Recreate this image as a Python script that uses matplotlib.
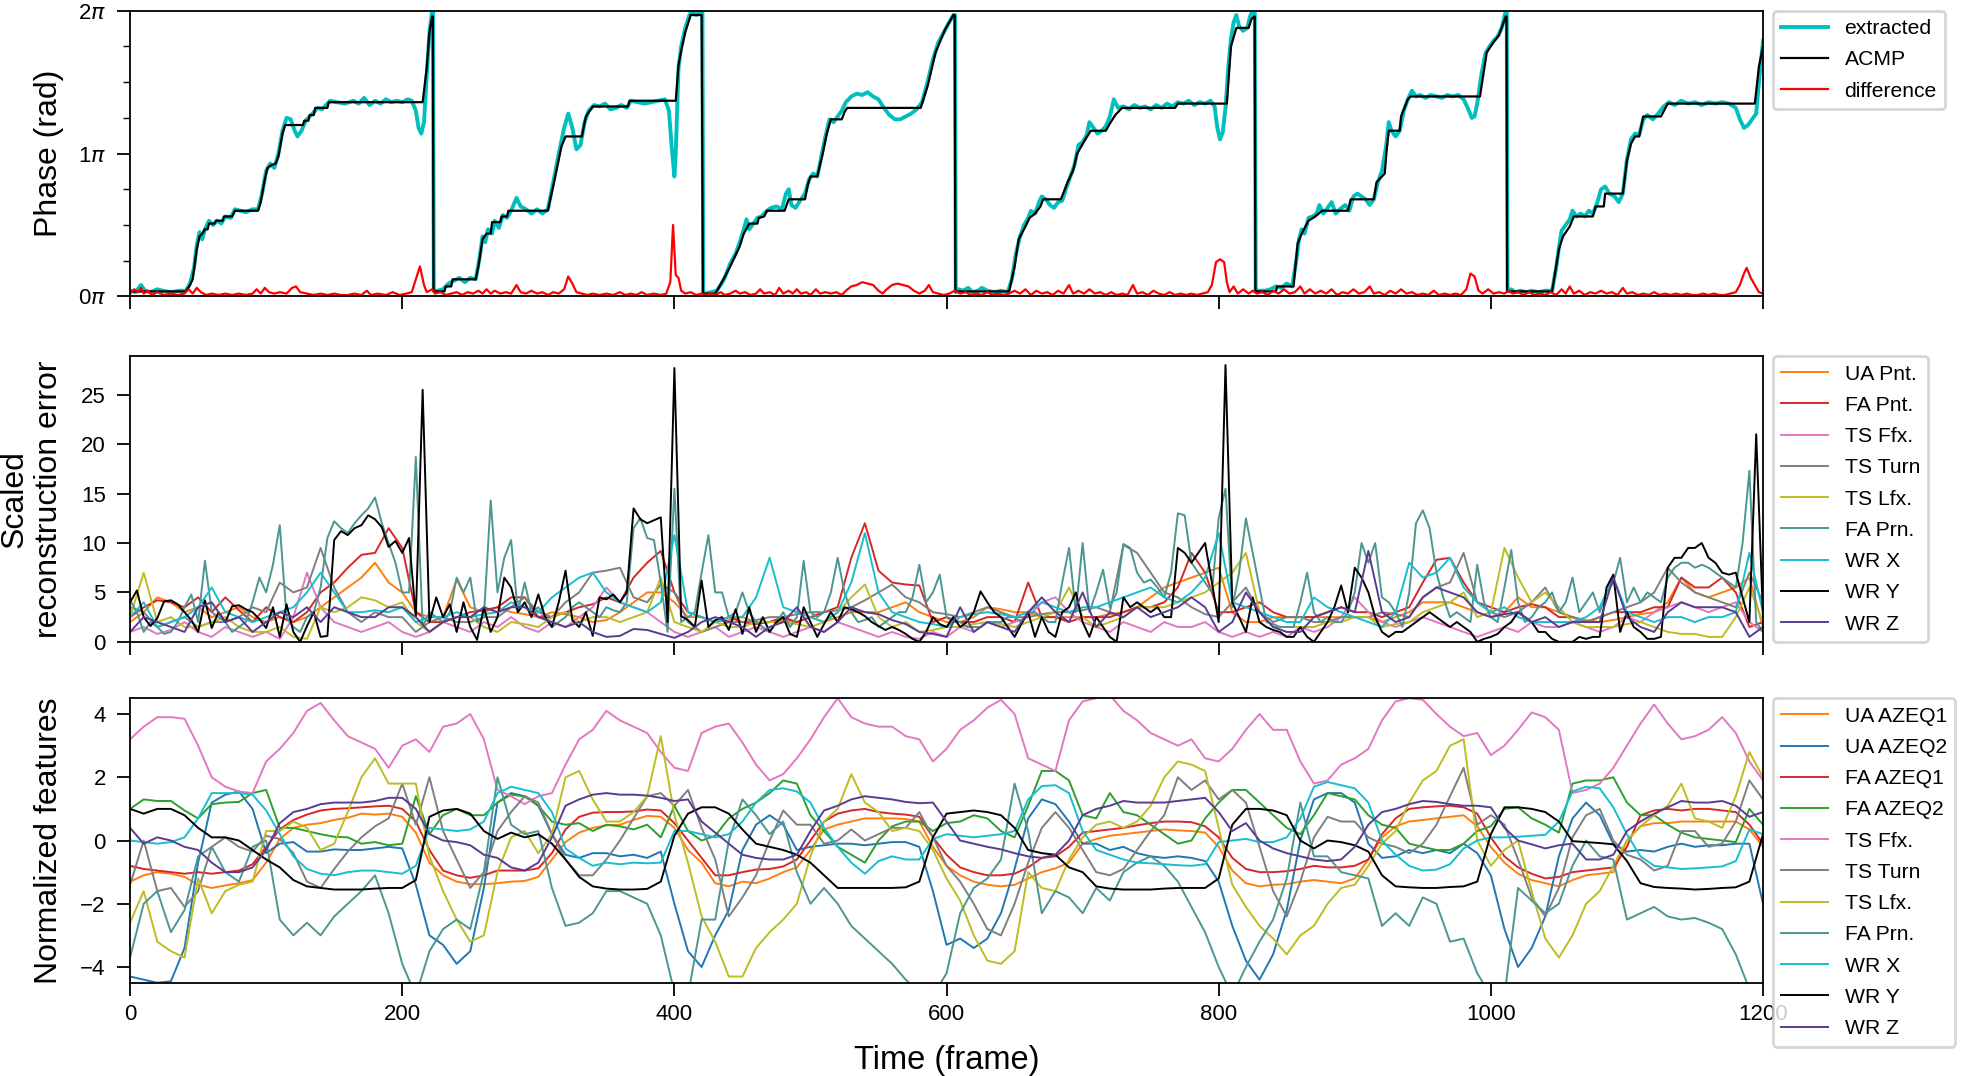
import numpy as np
import matplotlib
matplotlib.use("Agg")
import matplotlib.pyplot as plt
from matplotlib.ticker import MultipleLocator

plt.rcParams['font.family'] = ['Liberation Sans', 'DejaVu Sans']

# ---------------- panel 1 : phase (values in units of pi) ----------------
acmp_pts = [
    (0, 0.035), (41, 0.035), (44, 0.08), (46, 0.12), (49, 0.33), (51, 0.42), (53, 0.44), (55, 0.47),
    (57, 0.47), (58, 0.51), (62, 0.51), (63, 0.53), (68, 0.53), (69, 0.56), (75, 0.56), (77, 0.60),
    (94, 0.60), (96, 0.66), (99, 0.82), (101, 0.90), (104, 0.92), (107, 0.93), (109, 0.98), (112, 1.14),
    (114, 1.20), (127, 1.20), (128, 1.23), (131, 1.23), (132, 1.27), (135, 1.27), (136, 1.32), (145, 1.32),
    (146, 1.36), (215, 1.36), (218, 1.6), (220, 1.85), (222, 1.96), (222.5, 1.96), (223, 0.035),
    (231, 0.035), (232, 0.07), (236, 0.07), (237, 0.12), (254, 0.12), (256, 0.21), (259, 0.40), (262, 0.44),
    (265, 0.44), (266, 0.52), (272, 0.52), (273, 0.56), (277, 0.56), (278, 0.60), (307, 0.60), (312, 0.82),
    (317, 1.05), (320, 1.12), (332, 1.12), (335, 1.26), (340, 1.33), (366, 1.33), (367, 1.37), (401, 1.37),
    (403, 1.62), (405, 1.72), (408, 1.85), (411, 1.94), (412, 1.97), (420, 1.97), (421, 0.02),
    (430, 0.02), (432, 0.05), (436, 0.12), (441, 0.21), (448, 0.35), (451, 0.44), (455, 0.51), (461, 0.51),
    (462, 0.55), (466, 0.56), (468, 0.60), (481, 0.60), (484, 0.68), (496, 0.68), (498, 0.78), (500, 0.84),
    (505, 0.84), (509, 1.0), (512, 1.14), (515, 1.24), (523, 1.24), (525, 1.29), (527, 1.32), (581, 1.32),
    (586, 1.47), (592, 1.71), (599, 1.87), (605, 1.97), (606, 1.97), (606.5, 0.035),
    (646, 0.035), (650, 0.21), (653, 0.40), (658, 0.49), (661, 0.55), (665, 0.58), (669, 0.63), (671, 0.68),
    (684, 0.68), (689, 0.80), (693, 0.88), (696, 1.0), (699, 1.05), (702, 1.10), (706, 1.16), (717, 1.16),
    (720, 1.21), (724, 1.27), (729, 1.32), (768, 1.32), (770, 1.35), (806, 1.35), (809, 1.75), (813, 1.88),
    (822, 1.88), (824, 1.94), (826, 1.96), (826.5, 1.96), (827, 0.035),
    (842, 0.035), (843, 0.07), (855, 0.07), (858, 0.37), (861, 0.44), (866, 0.53), (871, 0.56), (876, 0.60),
    (895, 0.60), (897, 0.68), (914, 0.68), (916, 0.80), (922, 0.86), (923.5, 1.03), (925, 1.16), (933, 1.16),
    (934, 1.26), (939, 1.38), (941, 1.40), (992, 1.40), (997, 1.71), (1002, 1.78), (1006, 1.83), (1011, 1.96),
    (1011.5, 1.96), (1012, 0.035),
    (1045, 0.035), (1050, 0.33), (1053, 0.42), (1058, 0.49), (1061, 0.56), (1075, 0.56), (1077, 0.63),
    (1083, 0.63), (1084, 0.72), (1097, 0.72), (1100, 0.95), (1103, 1.07), (1106, 1.12), (1109, 1.12),
    (1112, 1.26), (1125, 1.26), (1130, 1.35), (1194, 1.35), (1197, 1.61), (1200, 1.75),
]

extracted_pts = [
    (0, 0.04), (4, 0.03), (8, 0.08), (11, 0.04), (15, 0.03), (20, 0.05), (24, 0.04), (30, 0.03), (36, 0.04),
    (41, 0.04), (44, 0.09), (47, 0.2), (49, 0.36), (51, 0.45), (53, 0.40), (55, 0.47), (58, 0.53), (61, 0.50),
    (64, 0.53), (67, 0.51), (70, 0.56), (74, 0.55), (77, 0.61), (81, 0.60), (85, 0.59), (90, 0.61), (94, 0.61),
    (97, 0.72), (100, 0.88), (103, 0.93), (106, 0.90), (109, 1.0), (112, 1.16), (115, 1.25), (118, 1.24),
    (121, 1.16), (123, 1.12), (126, 1.16), (129, 1.23), (132, 1.26), (135, 1.29), (138, 1.32), (141, 1.31),
    (144, 1.34), (147, 1.37), (152, 1.36), (158, 1.35), (164, 1.37), (168, 1.35), (172, 1.39), (176, 1.34),
    (180, 1.37), (184, 1.35), (188, 1.38), (192, 1.36), (196, 1.37), (200, 1.36), (204, 1.38), (207, 1.37),
    (210, 1.30), (212, 1.18), (214, 1.14), (216, 1.22), (218, 1.55), (220, 1.85), (222, 2.0), (222.6, 2.0),
    (223.2, 0.04),
    (226, 0.04), (230, 0.05), (234, 0.09), (238, 0.11), (242, 0.13), (246, 0.10), (250, 0.13), (254, 0.12),
    (257, 0.28), (259, 0.42), (261, 0.38), (263, 0.47), (266, 0.44), (268, 0.53), (271, 0.48), (274, 0.57),
    (277, 0.55), (280, 0.60), (284, 0.69), (287, 0.63), (291, 0.61), (295, 0.58), (299, 0.61), (303, 0.58),
    (307, 0.61), (311, 0.80), (315, 1.0), (319, 1.18), (322, 1.28), (325, 1.18), (328, 1.03), (331, 1.06),
    (334, 1.22), (337, 1.30), (341, 1.34), (345, 1.33), (349, 1.35), (353, 1.31), (357, 1.32), (361, 1.34),
    (365, 1.32), (368, 1.37), (373, 1.36), (378, 1.35), (383, 1.36), (388, 1.37), (393, 1.38), (396, 1.30),
    (398, 1.05), (400, 0.84), (401, 1.0), (403, 1.6), (405, 1.75), (408, 1.88), (411, 1.97), (413, 2.0),
    (416, 1.97), (420, 2.0), (420.6, 2.0), (421.2, 0.02),
    (423, 0.02), (427, 0.03), (431, 0.04), (434, 0.08), (437, 0.13), (441, 0.23), (445, 0.30), (448, 0.38),
    (451, 0.47), (453, 0.54), (455, 0.47), (458, 0.51), (461, 0.55), (464, 0.56), (468, 0.60), (471, 0.62),
    (475, 0.63), (479, 0.61), (482, 0.72), (484, 0.75), (486, 0.64), (489, 0.62), (493, 0.68), (496, 0.72),
    (499, 0.82), (502, 0.86), (505, 0.84), (508, 0.98), (511, 1.12), (514, 1.24), (517, 1.22), (520, 1.26),
    (523, 1.30), (526, 1.36), (530, 1.40), (534, 1.42), (538, 1.41), (542, 1.43), (546, 1.40), (550, 1.38),
    (554, 1.32), (558, 1.27), (562, 1.24), (566, 1.24), (570, 1.26), (574, 1.28), (578, 1.31), (582, 1.36),
    (586, 1.50), (590, 1.66), (594, 1.78), (598, 1.85), (602, 1.92), (605, 1.97), (606.2, 1.97), (606.8, 0.03),
    (609, 0.05), (612, 0.04), (616, 0.06), (619, 0.03), (623, 0.04), (626, 0.06), (630, 0.04), (635, 0.03),
    (640, 0.04), (645, 0.03), (648, 0.12), (651, 0.30), (654, 0.42), (657, 0.50), (660, 0.55), (662, 0.60),
    (665, 0.58), (668, 0.66), (670, 0.70), (673, 0.68), (676, 0.64), (679, 0.62), (682, 0.66), (685, 0.67),
    (688, 0.76), (691, 0.84), (694, 0.92), (697, 1.06), (700, 1.08), (703, 1.13), (705, 1.22), (708, 1.18),
    (711, 1.14), (714, 1.16), (717, 1.19), (720, 1.26), (723, 1.38), (726, 1.32), (730, 1.33), (734, 1.31),
    (738, 1.34), (742, 1.32), (746, 1.33), (750, 1.31), (754, 1.34), (758, 1.32), (762, 1.35), (766, 1.33),
    (770, 1.36), (774, 1.35), (778, 1.37), (782, 1.34), (786, 1.36), (790, 1.35), (794, 1.37), (797, 1.33),
    (799, 1.18), (801, 1.10), (803, 1.15), (805, 1.32), (807, 1.60), (809, 1.80), (811, 1.92), (813, 1.97),
    (815, 1.89), (818, 1.86), (821, 1.88), (823, 1.96), (825, 2.0), (826.5, 2.0), (827.2, 0.04),
    (830, 0.04), (834, 0.04), (838, 0.05), (842, 0.07), (846, 0.06), (850, 0.09), (854, 0.07), (857, 0.25),
    (859, 0.40), (861, 0.47), (863, 0.44), (866, 0.55), (869, 0.56), (872, 0.58), (874, 0.64), (877, 0.58),
    (880, 0.62), (883, 0.66), (886, 0.58), (889, 0.61), (893, 0.64), (896, 0.60), (899, 0.70), (902, 0.72),
    (905, 0.70), (908, 0.68), (911, 0.64), (914, 0.68), (917, 0.80), (920, 0.88), (923, 1.05), (925, 1.22),
    (927, 1.16), (930, 1.12), (933, 1.16), (936, 1.30), (939, 1.38), (942, 1.44), (945, 1.40), (948, 1.41),
    (952, 1.39), (956, 1.41), (960, 1.40), (964, 1.39), (968, 1.41), (972, 1.40), (976, 1.41), (980, 1.38),
    (983, 1.32), (986, 1.25), (988, 1.26), (990, 1.35), (993, 1.55), (996, 1.70), (999, 1.75), (1002, 1.79),
    (1005, 1.82), (1008, 1.88), (1010, 1.96), (1011, 2.0), (1011.7, 2.0), (1012.3, 0.04),
    (1015, 0.05), (1018, 0.03), (1022, 0.04), (1026, 0.03), (1030, 0.04), (1035, 0.03), (1040, 0.04),
    (1045, 0.04), (1048, 0.20), (1050, 0.34), (1052, 0.46), (1055, 0.50), (1058, 0.54), (1060, 0.60),
    (1063, 0.56), (1066, 0.58), (1069, 0.56), (1072, 0.60), (1075, 0.58), (1078, 0.65), (1081, 0.75),
    (1084, 0.77), (1087, 0.72), (1091, 0.70), (1094, 0.66), (1097, 0.72), (1100, 0.96), (1103, 1.10),
    (1106, 1.14), (1109, 1.13), (1112, 1.24), (1115, 1.27), (1119, 1.24), (1123, 1.28), (1127, 1.33),
    (1131, 1.36), (1135, 1.34), (1140, 1.37), (1145, 1.35), (1150, 1.36), (1155, 1.34), (1160, 1.36),
    (1165, 1.35), (1170, 1.36), (1175, 1.35), (1180, 1.32), (1183, 1.24), (1186, 1.18), (1189, 1.20),
    (1192, 1.24), (1195, 1.28), (1197, 1.50), (1200, 1.79),
]

difference_pts = [
    (0, 0.02), (3, 0.05), (6, 0.03), (8, 0.06), (10, 0.02), (13, 0.04), (16, 0.01), (20, 0.03), (25, 0.01),
    (30, 0.02), (35, 0.01), (40, 0.02), (43, 0.05), (46, 0.02), (49, 0.06), (52, 0.03), (56, 0.01), (60, 0.02),
    (65, 0.01), (70, 0.02), (75, 0.01), (80, 0.02), (85, 0.01), (90, 0.02), (93, 0.05), (96, 0.02), (99, 0.06),
    (102, 0.03), (106, 0.02), (110, 0.03), (115, 0.02), (119, 0.06), (122, 0.07), (125, 0.03), (130, 0.02),
    (135, 0.01), (140, 0.02), (145, 0.01), (150, 0.02), (155, 0.01), (160, 0.01), (165, 0.02), (170, 0.01),
    (174, 0.04), (177, 0.01), (182, 0.02), (188, 0.01), (193, 0.03), (198, 0.01), (203, 0.02), (207, 0.03),
    (210, 0.12), (213, 0.21), (216, 0.08), (218, 0.03), (222, 0.05), (224, 0.02), (228, 0.03), (232, 0.01),
    (236, 0.02), (240, 0.03), (244, 0.01), (248, 0.03), (252, 0.02), (256, 0.04), (259, 0.02), (262, 0.05),
    (265, 0.02), (268, 0.04), (272, 0.02), (276, 0.03), (280, 0.02), (284, 0.08), (287, 0.03), (291, 0.02),
    (295, 0.04), (299, 0.02), (303, 0.03), (307, 0.01), (311, 0.03), (315, 0.02), (319, 0.05), (322, 0.14),
    (325, 0.09), (328, 0.03), (332, 0.02), (336, 0.01), (340, 0.02), (345, 0.01), (350, 0.02), (355, 0.01),
    (360, 0.03), (364, 0.01), (368, 0.02), (372, 0.01), (376, 0.03), (380, 0.01), (385, 0.02), (390, 0.01),
    (394, 0.02), (397, 0.10), (399, 0.50), (401, 0.15), (403, 0.13), (405, 0.04), (408, 0.02), (412, 0.03),
    (416, 0.01), (420, 0.02), (423, 0.01), (427, 0.02), (430, 0.01), (434, 0.03), (437, 0.01), (441, 0.02),
    (445, 0.04), (448, 0.02), (452, 0.03), (456, 0.01), (460, 0.02), (463, 0.05), (466, 0.02), (470, 0.03),
    (474, 0.01), (477, 0.06), (480, 0.02), (484, 0.04), (487, 0.02), (490, 0.05), (493, 0.02), (497, 0.03),
    (500, 0.01), (504, 0.05), (507, 0.02), (511, 0.03), (515, 0.02), (519, 0.03), (523, 0.01), (526, 0.04),
    (530, 0.07), (534, 0.08), (538, 0.10), (542, 0.09), (546, 0.08), (550, 0.04), (553, 0.02), (556, 0.05),
    (560, 0.08), (564, 0.09), (568, 0.08), (572, 0.07), (576, 0.04), (580, 0.02), (584, 0.04), (587, 0.08),
    (590, 0.03), (594, 0.02), (598, 0.01), (602, 0.02), (606, 0.04), (610, 0.02), (614, 0.03), (618, 0.01),
    (622, 0.02), (626, 0.01), (630, 0.03), (634, 0.01), (638, 0.02), (642, 0.01), (646, 0.02), (650, 0.04),
    (654, 0.02), (658, 0.05), (662, 0.01), (666, 0.04), (670, 0.02), (674, 0.03), (678, 0.01), (682, 0.04),
    (686, 0.02), (690, 0.08), (693, 0.02), (697, 0.04), (701, 0.02), (705, 0.05), (709, 0.02), (713, 0.03),
    (717, 0.01), (721, 0.03), (725, 0.01), (729, 0.02), (733, 0.01), (737, 0.08), (740, 0.02), (744, 0.03),
    (748, 0.01), (752, 0.04), (756, 0.02), (760, 0.01), (764, 0.03), (768, 0.01), (772, 0.02), (776, 0.01),
    (780, 0.02), (784, 0.01), (788, 0.02), (792, 0.03), (795, 0.08), (798, 0.24), (801, 0.26), (804, 0.24),
    (806, 0.10), (808, 0.03), (811, 0.07), (814, 0.02), (818, 0.05), (822, 0.02), (825, 0.04), (828, 0.02),
    (832, 0.03), (836, 0.01), (840, 0.04), (844, 0.02), (848, 0.05), (852, 0.02), (856, 0.03), (860, 0.07),
    (863, 0.02), (867, 0.05), (871, 0.02), (875, 0.04), (879, 0.02), (883, 0.05), (887, 0.01), (891, 0.03),
    (895, 0.02), (899, 0.05), (903, 0.02), (907, 0.03), (911, 0.07), (914, 0.02), (918, 0.03), (922, 0.01),
    (926, 0.04), (930, 0.02), (934, 0.05), (938, 0.02), (942, 0.03), (946, 0.01), (950, 0.02), (954, 0.01),
    (958, 0.04), (962, 0.01), (966, 0.02), (970, 0.01), (974, 0.02), (978, 0.01), (982, 0.05), (985, 0.16),
    (988, 0.14), (991, 0.04), (994, 0.02), (998, 0.05), (1002, 0.02), (1006, 0.03), (1010, 0.02), (1013, 0.04),
    (1016, 0.02), (1020, 0.03), (1024, 0.01), (1028, 0.03), (1032, 0.01), (1036, 0.02), (1040, 0.01),
    (1044, 0.03), (1048, 0.01), (1052, 0.05), (1055, 0.02), (1058, 0.07), (1061, 0.02), (1065, 0.04),
    (1069, 0.01), (1073, 0.03), (1077, 0.02), (1081, 0.04), (1085, 0.02), (1089, 0.03), (1093, 0.01),
    (1097, 0.06), (1100, 0.02), (1104, 0.03), (1108, 0.01), (1112, 0.02), (1116, 0.01), (1120, 0.03),
    (1124, 0.01), (1128, 0.02), (1132, 0.01), (1136, 0.02), (1140, 0.01), (1144, 0.02), (1148, 0.01),
    (1152, 0.01), (1156, 0.02), (1160, 0.01), (1164, 0.02), (1168, 0.01), (1172, 0.01), (1176, 0.02),
    (1180, 0.03), (1183, 0.08), (1186, 0.16), (1188, 0.20), (1191, 0.13), (1194, 0.08), (1197, 0.03),
    (1200, 0.02),
]

# ---------------- panel 2 : scaled reconstruction error ----------------
frames5 = np.arange(0, 1201, 5)
frames10 = np.arange(0, 1201, 10)

err_wr_y = [  # every 5 frames
    4.0, 5.2, 2.5, 1.6, 2.4, 4.1, 4.2, 3.8, 3.0, 2.2, 1.0, 4.2, 1.4, 3.0, 2.0, 3.6, 3.7, 3.3, 3.0, 2.3,
    1.4, 3.5, 0.5, 3.8, 1.0, 0.0, 1.6, 3.0, 0.5, 0.6, 10.3, 11.2, 10.8, 11.5, 11.8, 12.8, 12.4, 11.6, 9.6, 10.2,
    9.0, 10.5, 2.5, 25.5, 2.0, 4.5, 2.5, 3.8, 1.0, 4.0, 1.5, 0.2, 3.5, 1.0, 2.5, 6.5, 5.5, 3.0, 4.0, 2.5,
    4.8, 2.5, 1.5, 4.0, 7.2, 2.2, 1.5, 3.0, 0.6, 4.5, 4.3, 4.8, 4.0, 5.0, 13.5, 12.4, 12.0, 12.3, 12.6, 2.0,
    27.7, 2.6, 2.2, 1.5, 6.2, 1.5, 2.2, 2.5, 1.2, 3.3, 0.8, 3.5, 1.0, 2.5, 1.0, 2.0, 2.5, 0.8, 0.5, 3.5,
    2.0, 0.5, 1.8, 3.0, 2.0, 3.5, 3.3, 3.0, 2.6, 2.0, 1.6, 1.2, 1.5, 1.2, 0.8, 0.3, 0.0, 1.0, 2.5, 1.8,
    1.5, 2.5, 1.5, 2.0, 3.0, 5.1, 4.0, 3.0, 2.5, 1.5, 0.5, 1.8, 3.0, 0.5, 2.5, 1.0, 0.5, 3.0, 3.5, 5.0,
    2.0, 0.5, 2.5, 1.5, 0.5, 0.0, 4.5, 3.5, 4.0, 3.5, 3.0, 3.5, 2.5, 2.5, 9.5, 9.0, 8.0, 9.0, 10.0, 6.0,
    2.0, 28.0, 4.0, 2.5, 1.0, 4.5, 2.0, 1.5, 1.2, 1.0, 0.5, 0.5, 1.5, 0.5, 0.0, 1.0, 2.0, 3.5, 5.7, 3.0,
    7.5, 6.5, 5.0, 2.5, 1.0, 0.5, 1.0, 1.0, 1.5, 2.0, 2.5, 3.0, 2.5, 2.0, 1.5, 2.0, 1.5, 1.0, 0.0, 0.3,
    0.5, 0.8, 1.5, 2.0, 3.0, 2.5, 2.0, 1.0, 1.0, 0.3, 0.0, 0.0, 0.0, 0.5, 0.3, 0.5, 0.5, 5.5, 6.8, 1.0,
    3.0, 1.5, 1.0, 0.3, 0.3, 0.5, 7.5, 8.5, 8.5, 9.5, 9.5, 10.0, 8.5, 8.0, 7.0, 6.8, 7.0, 4.5, 2.0, 21.0,
    2.5,
]
err_fa_prn = [  # every 5 frames
    4.2, 3.0, 1.0, 2.0, 1.5, 0.8, 1.0, 2.0, 3.5, 4.8, 2.0, 8.2, 3.0, 2.5, 2.0, 1.0, 1.5, 2.0, 4.0, 6.5,
    5.0, 7.8, 11.8, 2.5, 1.5, 1.0, 2.5, 3.0, 5.5, 10.5, 12.2, 11.5, 11.0, 12.0, 12.8, 13.5, 14.6, 12.0, 10.0, 8.0,
    5.0, 5.0, 18.7, 1.5, 3.0, 2.5, 2.0, 3.0, 6.5, 5.0, 6.5, 2.0, 2.5, 14.3, 5.0, 8.5, 10.3, 3.0, 6.0, 3.0,
    3.5, 2.5, 1.5, 2.0, 2.5, 3.5, 4.0, 3.5, 3.0, 2.5, 3.5, 3.2, 3.0, 4.0, 11.5, 12.5, 10.5, 10.3, 6.0, 1.0,
    15.5, 2.0, 2.5, 3.0, 7.0, 10.8, 5.0, 5.0, 2.5, 3.0, 5.0, 3.0, 2.0, 1.5, 1.0, 2.0, 3.0, 1.5, 2.5, 8.2,
    3.0, 2.5, 3.0, 5.0, 8.5, 5.0, 3.0, 2.0, 2.2, 2.5, 1.5, 2.0, 2.5, 3.0, 3.0, 4.5, 7.8, 4.0, 5.0, 6.8,
    2.5, 2.0, 2.0, 1.5, 1.5, 1.5, 2.0, 2.0, 2.0, 2.5, 2.5, 2.0, 3.0, 3.0, 2.5, 2.0, 2.0, 6.0, 9.5, 3.0,
    10.0, 3.0, 5.0, 7.3, 3.5, 5.0, 9.9, 9.5, 7.0, 6.0, 6.3, 5.5, 4.5, 7.0, 13.0, 12.8, 8.0, 7.0, 6.0, 5.0,
    12.5, 15.5, 3.5, 7.0, 12.5, 9.0, 5.5, 2.0, 1.8, 1.5, 1.5, 1.5, 4.0, 7.0, 3.0, 2.0, 2.5, 2.0, 2.0, 3.0,
    5.0, 10.0, 8.0, 10.0, 4.5, 4.0, 3.0, 1.5, 5.0, 12.0, 13.3, 11.5, 7.0, 4.5, 2.5, 3.0, 2.5, 2.0, 7.8, 4.0,
    2.5, 2.0, 5.5, 9.3, 4.0, 2.0, 2.5, 3.5, 4.0, 5.0, 3.0, 4.0, 6.5, 3.0, 4.0, 5.0, 3.0, 5.0, 6.0, 8.5,
    4.0, 5.5, 4.0, 5.0, 4.5, 4.0, 6.5, 7.5, 8.0, 8.0, 7.5, 7.8, 7.5, 7.0, 6.5, 6.0, 5.5, 10.0, 17.3, 2.0,
    1.0,
]
err_ua_pnt = [
    2.0, 3.0, 4.5, 4.0, 3.0, 3.5, 2.5, 3.0, 3.5, 2.5,
    2.0, 2.5, 2.0, 2.5, 3.5, 4.5, 5.5, 6.5, 8.0, 6.0,
    5.0, 3.0, 2.5, 2.5, 6.3, 3.5, 3.0, 3.5, 3.0, 2.8,
    2.5, 3.0, 2.8, 2.5, 2.0, 2.2, 3.0, 4.0, 5.0, 5.0,
    4.0, 2.5, 2.5, 2.0, 2.2, 2.5, 2.0, 2.0, 2.2, 2.0,
    2.5, 2.0, 2.5, 3.0, 3.0, 3.0, 3.5, 4.0, 3.0, 2.5,
    2.0, 2.0, 2.5, 3.5, 3.3, 3.0, 3.0, 2.5, 2.5, 2.5,
    2.5, 2.5, 2.8, 3.0, 3.5, 4.5, 5.5, 6.0, 6.5, 7.0,
    7.5, 3.0, 2.0, 2.0, 2.5, 2.5, 2.5, 2.5, 2.5, 2.5,
    2.5, 2.5, 2.0, 2.5, 3.0, 4.0, 4.0, 4.0, 3.5, 3.0,
    2.5, 3.0, 4.5, 3.5, 3.5, 3.0, 2.5, 2.2, 2.0, 2.2,
    2.5, 2.8, 3.0, 4.0, 6.5, 5.0, 4.5, 5.0, 5.5, 6.5,
    1.5,
]
err_fa_pnt = [
    2.5, 3.5, 4.2, 4.0, 3.5, 4.5, 3.0, 4.5, 3.2, 2.0,
    3.5, 2.5, 2.0, 3.0, 5.0, 6.0, 7.5, 8.8, 9.0, 11.5,
    9.5, 3.0, 2.0, 2.0, 2.5, 3.0, 3.2, 3.5, 4.5, 4.5,
    2.5, 2.5, 3.0, 3.5, 3.8, 4.5, 4.0, 6.5, 8.0, 9.2,
    5.0, 3.0, 2.5, 2.0, 2.5, 2.0, 1.8, 2.0, 2.5, 2.0,
    2.5, 3.0, 3.5, 8.5, 12.0, 7.2, 6.0, 5.8, 5.7, 2.0,
    2.5, 2.0, 2.0, 2.5, 2.5, 2.0, 6.0, 2.5, 2.5, 2.0,
    2.5, 2.5, 2.5, 3.0, 3.5, 3.5, 4.0, 5.5, 9.0, 7.0,
    3.0, 3.0, 3.5, 4.0, 3.0, 2.5, 2.5, 2.5, 3.0, 3.5,
    3.0, 3.0, 2.5, 3.0, 3.5, 6.0, 8.3, 8.5, 6.0, 4.0,
    3.5, 3.0, 3.5, 3.8, 3.5, 2.5, 2.5, 2.0, 2.5, 3.0,
    3.0, 3.0, 3.5, 3.5, 6.5, 5.5, 5.5, 6.5, 5.0, 1.5,
    2.0,
]
err_ts_ffx = [
    1.0, 1.5, 0.8, 1.2, 2.0, 1.0, 0.5, 1.5, 1.0, 0.5,
    1.0, 0.3, 2.5, 7.0, 3.5, 2.0, 1.5, 1.0, 1.5, 2.0,
    1.0, 0.5, 1.0, 2.0, 1.5, 1.0, 2.0, 1.5, 2.5, 1.5,
    1.0, 2.0, 1.5, 2.5, 3.5, 5.5, 4.0, 3.5, 3.0, 2.0,
    1.0, 0.5, 1.0, 1.5, 0.5, 1.0, 1.5, 1.0, 0.5, 1.0,
    1.5, 1.0, 2.0, 1.5, 1.0, 0.5, 1.0, 0.5, 0.3, 1.0,
    0.5, 1.5, 1.0, 2.0, 1.5, 2.0, 2.5, 4.0, 4.5, 3.0,
    2.0, 1.5, 1.0, 2.0, 1.5, 1.0, 2.0, 1.5, 1.5, 2.0,
    1.0, 0.5, 1.0, 0.5, 1.0, 0.5, 1.5, 1.0, 1.5, 2.5,
    4.5, 3.0, 2.0, 1.5, 2.0, 2.5, 2.0, 1.5, 1.0, 0.5,
    1.0, 1.5, 1.0, 2.0, 1.5, 1.5, 2.0, 1.5, 1.0, 1.5,
    2.5, 2.0, 3.0, 3.5, 4.0, 3.5, 3.0, 3.5, 4.0, 2.0,
    1.0,
]
err_ts_turn = [
    3.5, 3.0, 1.5, 2.0, 2.5, 1.5, 2.0, 2.0, 2.5, 3.5,
    3.0, 6.0, 5.0, 5.5, 9.5, 5.5, 3.0, 2.0, 3.0, 2.5,
    2.5, 1.0, 2.0, 2.5, 2.0, 2.0, 2.5, 2.5, 3.5, 4.5,
    3.0, 2.5, 4.0, 5.0, 7.0, 7.2, 7.5, 4.5, 4.0, 5.8,
    5.0, 2.0, 1.0, 1.5, 2.0, 2.0, 2.2, 2.5, 2.5, 2.8,
    3.0, 3.0, 3.2, 3.5, 4.2, 5.0, 5.8, 4.5, 4.0, 3.0,
    2.8, 2.5, 3.0, 3.5, 3.0, 2.5, 2.5, 2.8, 3.0, 3.0,
    3.2, 3.5, 3.0, 9.8, 9.0, 7.0, 5.0, 4.5, 3.5, 2.8,
    2.5, 4.0, 5.5, 3.0, 2.0, 2.5, 2.5, 2.0, 2.0, 2.5,
    2.5, 2.5, 3.0, 2.8, 2.5, 4.5, 5.5, 6.0, 9.0, 4.0,
    3.0, 2.5, 3.0, 4.0, 5.5, 3.0, 2.5, 2.0, 2.5, 3.0,
    3.5, 4.0, 5.0, 7.5, 6.0, 5.0, 4.5, 4.0, 3.5, 7.0,
    4.0,
]
err_ts_lfx = [
    2.5, 7.0, 2.0, 2.5, 1.5, 1.5, 2.0, 2.5, 1.5, 1.0,
    1.0, 1.5, 0.5, 0.3, 3.5, 3.0, 3.5, 4.5, 4.2, 3.5,
    4.0, 2.0, 1.0, 2.0, 2.5, 2.5, 1.5, 1.0, 2.0, 1.8,
    1.5, 2.5, 3.0, 2.0, 2.5, 2.5, 2.0, 2.5, 3.0, 6.5,
    2.0, 1.5, 1.0, 2.0, 1.5, 1.5, 2.0, 2.0, 2.0, 1.8,
    1.5, 2.0, 3.0, 4.5, 5.8, 2.5, 1.5, 2.0, 1.0, 1.2,
    1.5, 1.5, 1.8, 2.0, 1.8, 1.5, 2.0, 2.5, 3.0, 5.5,
    2.5, 1.5, 2.0, 2.5, 3.5, 3.5, 3.5, 4.0, 4.5, 5.0,
    6.0, 7.0, 9.0, 3.0, 1.5, 1.5, 1.5, 1.5, 2.0, 2.0,
    2.5, 2.5, 1.5, 1.8, 2.0, 3.0, 3.5, 4.0, 5.0, 2.5,
    3.0, 9.5, 6.5, 4.0, 5.0, 3.5, 2.0, 1.5, 1.5, 1.5,
    1.8, 2.0, 1.5, 1.0, 0.8, 0.8, 0.5, 0.5, 2.5, 5.5,
    2.0,
]
err_wr_x = [
    2.5, 4.0, 1.5, 2.0, 2.5, 3.5, 5.5, 3.0, 2.5, 2.0,
    2.5, 3.0, 3.5, 5.0, 7.0, 5.0, 3.0, 3.0, 3.2, 3.0,
    3.5, 2.0, 2.5, 2.5, 3.0, 2.5, 2.8, 3.0, 4.0, 3.5,
    3.0, 4.5, 5.5, 6.5, 7.0, 5.0, 4.0, 3.5, 3.0, 4.0,
    10.8, 3.0, 2.5, 2.0, 2.5, 2.5, 4.5, 8.5, 3.5, 3.0,
    2.5, 2.0, 3.0, 6.0, 11.0, 5.0, 3.0, 2.5, 2.0, 1.8,
    1.5, 2.5, 2.8, 3.0, 2.8, 2.5, 3.0, 4.0, 3.5, 3.0,
    3.5, 3.5, 4.0, 4.5, 5.0, 5.5, 4.5, 4.0, 5.0, 6.5,
    11.0, 4.0, 3.5, 3.0, 2.5, 2.0, 2.0, 4.5, 3.5, 3.0,
    2.5, 2.0, 1.5, 3.0, 8.0, 6.5, 7.0, 8.5, 5.5, 4.0,
    3.0, 3.5, 2.5, 2.0, 2.0, 2.0, 2.0, 2.5, 3.5, 6.5,
    3.0, 2.5, 2.0, 2.5, 2.5, 2.0, 2.5, 2.5, 3.0, 9.0,
    3.0,
]
err_wr_z = [
    1.0, 2.5, 2.0, 1.5, 1.0, 3.5, 4.0, 2.0, 2.5, 1.0,
    2.0, 3.0, 2.5, 3.5, 2.0, 3.5, 3.0, 2.5, 2.5, 3.5,
    3.5, 2.5, 1.0, 2.0, 2.5, 2.5, 3.5, 3.0, 3.5, 3.5,
    2.5, 2.0, 1.5, 2.0, 1.0, 0.5, 0.6, 1.3, 1.2, 0.8,
    0.4, 1.0, 2.0, 2.5, 2.0, 1.5, 0.5, 1.5, 2.0, 3.5,
    1.5, 1.0, 2.0, 3.5, 3.0, 2.8, 2.2, 1.8, 1.0, 0.8,
    0.5, 3.5, 1.0, 2.0, 1.5, 1.0, 3.0, 4.5, 3.0, 2.0,
    5.0, 1.5, 3.0, 2.5, 3.5, 2.5, 3.0, 3.5, 4.5, 3.5,
    1.0, 2.0, 5.0, 3.0, 1.5, 1.0, 1.0, 2.5, 3.0, 3.5,
    3.0, 9.2, 3.0, 2.0, 2.5, 4.5, 5.5, 5.0, 4.5, 3.0,
    2.5, 2.8, 3.0, 2.0, 2.5, 1.5, 2.0, 2.0, 2.0, 6.5,
    2.5, 1.5, 1.0, 3.0, 4.0, 3.5, 3.5, 3.5, 3.0, 0.5,
    1.5,
]

# ---------------- panel 3 : normalized features (every 10 frames) ----------------
feat_ua_azeq1 = [
    -1.3, -1.1, -1.0, -1.05, -1.15, -1.4, -1.5, -1.42, -1.35, -1.25,
    -0.7, 0.05, 0.4, 0.5, 0.55, 0.65, 0.72, 0.85, 0.82, 0.85,
    0.75, 0.25, -0.7, -1.1, -1.3, -1.38, -1.38, -1.35, -1.3, -1.28,
    -1.15, -0.6, -0.05, 0.25, 0.4, 0.48, 0.5, 0.65, 0.78, 0.75,
    0.4, -0.3, -0.7, -1.35, -1.45, -1.3, -1.35, -1.2, -1.0, -0.85,
    -0.3, 0.35, 0.5, 0.6, 0.7, 0.7, 0.7, 0.68, 0.6, -0.2,
    -0.8, -1.1, -1.3, -1.4, -1.45, -1.4, -1.2, -1.0, -0.88, -0.7,
    -0.1, 0.05, 0.15, 0.2, 0.25, 0.3, 0.35, 0.32, 0.3, 0.25,
    -0.2, -0.95, -1.35, -1.45, -1.4, -1.38, -1.3, -1.25, -1.3, -1.35,
    -1.2, -0.6, 0.1, 0.45, 0.6, 0.65, 0.7, 0.75, 0.8, 0.45,
    -0.2, -0.7, -1.05, -1.25, -1.35, -1.45, -1.25, -1.1, -1.05, -1.0,
    0.0, 0.45, 0.55, 0.55, 0.6, 0.6, 0.6, 0.6, 0.6, 0.35,
    -0.2,
]
feat_ua_azeq2 = [
    -4.3, -4.4, -4.5, -4.45, -3.4, -0.7, 1.2, 1.45, 1.55, 1.0,
    -0.4, -0.1, -0.05, -0.35, -0.35, -0.28, -0.3, -0.3, -0.25, -0.2,
    -0.25, -1.4, -3.0, -3.3, -3.9, -3.5, -1.5, 1.2, 1.5, 1.4,
    1.1, 0.2, -0.45, -0.55, -0.4, -0.4, -0.5, -0.45, -0.55, -0.35,
    -2.0, -3.5, -4.0, -3.0, -2.2, -0.3, 0.5, 0.8, 0.5, -0.3,
    -0.2, -0.15, -0.1, -0.1, -0.15, -0.1, -0.05, -0.05, -0.2, -1.6,
    -3.3, -3.1, -3.4, -3.1, -2.3, -0.9, 0.7, 1.3, 1.15, 0.6,
    -0.1, -0.1, -0.3, -0.2, -0.4, -0.5, -0.55, -0.5, -0.55, -0.65,
    -1.3, -2.7, -3.8, -4.4, -3.6, -2.2, 0.0, 1.3, 1.5, 1.5,
    1.2, -0.1, -0.55, -0.5, -0.3, -0.4, -0.3, -0.4, -0.1, -0.4,
    -1.1, -2.8, -4.0, -3.4, -2.4, -0.5, 0.7, 1.2, 0.8, -0.1,
    -0.35, -0.3, -0.35, -0.2, -0.1, -0.2, -0.15, -0.15, -0.1, -0.1,
    -2.0,
]
feat_fa_azeq1 = [
    -0.8, -0.9, -0.95, -1.0, -1.05, -1.0, -1.05, -1.0, -0.95, -0.75,
    -0.2, 0.35, 0.65, 0.82, 0.95, 1.0, 1.02, 1.05, 1.08, 1.1,
    1.0, 0.6, -0.3, -0.95, -1.1, -1.18, -1.1, -0.95, -0.95, -0.95,
    -0.88, -0.4, 0.35, 0.75, 0.88, 0.9, 0.9, 0.92, 0.98, 0.95,
    0.55, 0.0, -0.55, -1.1, -1.1, -1.0, -0.92, -0.9, -0.82, -0.6,
    0.0, 0.6, 0.85, 0.95, 1.0, 0.9, 0.85, 0.82, 0.75, 0.1,
    -0.45, -0.85, -1.0, -1.1, -1.1, -1.05, -0.85, -0.55, -0.5, -0.2,
    0.25, 0.3, 0.35, 0.4, 0.48, 0.55, 0.6, 0.6, 0.58, 0.45,
    0.1, -0.55, -0.9, -1.0, -1.0, -0.97, -0.9, -0.8, -0.85, -0.85,
    -0.8, -0.6, 0.2, 0.7, 1.0, 1.05, 1.08, 1.1, 1.05, 0.85,
    0.1, -0.5, -0.85, -1.05, -1.2, -1.15, -1.0, -0.95, -0.9, -0.85,
    -0.2, 0.8, 0.95, 1.0, 0.95, 1.0, 1.0, 0.95, 0.9, 0.5,
    -0.1,
]
feat_fa_azeq2 = [
    1.0, 1.3, 1.25, 1.25, 0.95, 0.7, 1.15, 1.2, 1.22, 1.5,
    1.6, 0.4, 0.4, 0.3, 0.2, 0.12, 0.1, -0.1, -0.05, -0.15,
    -0.1, 1.4, 0.2, 0.8, 1.0, 0.8, 0.8, 1.2, 1.45, 1.4,
    1.1, 0.6, 0.5, 0.55, 0.3, 0.5, 0.45, 0.35, 0.5, 0.1,
    1.1, 0.3, 0.0, 0.15, 0.7, 1.0, 1.2, 1.5, 1.9, 1.8,
    0.8, 0.3, -0.2, -0.45, -0.7, 0.0, 0.45, 0.6, 0.6, 0.3,
    0.55, 0.6, 0.8, 0.7, 0.3, 0.1, 1.1, 2.2, 2.2, 1.9,
    0.8, 0.7, 1.5, 0.9, 0.8, 0.5, 0.2, -0.1, 0.0, 0.7,
    1.2, 1.6, 1.6, 1.2, 0.8, 0.4, 0.2, 0.8, 1.5, 1.4,
    1.3, 0.8, 0.5, 0.4, -0.1, -0.2, -0.3, -0.3, -0.1, 0.3,
    0.45, 1.0, 1.05, 0.7, 0.5, 0.25, 1.8, 1.9, 1.9, 2.0,
    1.2, 0.8, 0.8, 0.5, 0.25, 0.1, 0.05, 0.0, -0.05, 1.0,
    0.5,
]
feat_ts_ffx = [
    3.2, 3.6, 3.9, 3.9, 3.85, 3.0, 2.0, 1.7, 1.55, 1.5,
    2.5, 2.9, 3.4, 4.1, 4.35, 3.8, 3.3, 3.1, 2.9, 2.3,
    3.0, 3.2, 2.8, 3.6, 3.7, 4.0, 3.2, 1.6, 1.4, 1.15,
    1.4, 1.5, 2.4, 3.2, 3.5, 4.1, 3.8, 3.6, 3.4, 2.8,
    2.3, 2.2, 3.4, 3.6, 3.7, 3.1, 2.4, 1.9, 2.1, 2.6,
    3.2, 3.9, 4.5, 3.9, 3.7, 3.6, 3.6, 3.3, 3.2, 2.5,
    2.9, 3.5, 3.8, 4.2, 4.45, 4.0, 2.6, 2.4, 2.2, 3.8,
    4.4, 4.5, 4.6, 4.1, 3.8, 3.4, 3.2, 3.0, 3.2, 2.6,
    2.5, 2.9, 3.5, 4.0, 3.5, 3.5, 2.5, 1.8, 1.9, 2.4,
    2.6, 2.9, 3.8, 4.4, 4.5, 4.45, 4.0, 3.6, 3.3, 3.4,
    2.7, 3.0, 3.5, 4.05, 3.9, 3.5, 1.5, 1.6, 1.8, 2.3,
    3.0, 3.7, 4.3, 3.7, 3.2, 3.3, 3.5, 3.9, 3.4, 2.5,
    1.9,
]
feat_ts_turn = [
    -1.4, 0.0, -1.6, -1.5, -2.1, -1.6, -0.2, 0.1, -0.2, -0.35,
    0.15, 0.05, -0.4, -1.3, -1.5, -0.9, -0.35, 0.1, 0.45, 0.7,
    1.8, 0.5, 2.0, 0.3, -0.6, -1.5, -1.0, 0.3, 0.9, 1.4,
    1.2, 0.2, -0.6, -1.1, -1.1, -0.6, 0.0, 0.7, 1.4, 1.5,
    1.1, 1.6, 0.4, -0.6, -2.4, -1.8, -1.1, 0.0, 0.95, 0.5,
    0.5, -0.1, 0.0, 0.35, 0.0, 0.2, 0.4, 0.4, 0.9, 0.1,
    -0.8, -1.3, -2.0, -2.8, -3.0, -2.0, -0.7, 0.4, 0.9, 0.4,
    -0.3, -1.0, -1.1, -0.9, -0.3, 0.3, 0.8, 2.0, 1.6, 1.9,
    1.3, 1.6, 1.2, -0.2, -1.6, -2.4, -1.3, 0.1, 0.75, 0.6,
    0.6, 0.1, -0.1, -0.2, -0.4, -0.1, 0.5, 1.4, 2.3, 0.5,
    0.8, 0.5, -0.6, -1.8, -2.4, -1.5, 0.1, 0.8, 1.0, 0.0,
    -0.45, -0.6, -0.95, -0.8, 0.3, 0.3, -0.2, -0.1, 0.6, 1.9,
    1.3,
]
feat_ts_lfx = [
    -2.6, -1.6, -3.2, -3.5, -3.7, -1.2, -2.3, -1.6, -1.4, -1.3,
    0.3, 0.3, 0.6, 0.4, -0.3, -0.1, 0.9, 2.0, 2.6, 1.8,
    1.8, 1.8, -0.5, -1.6, -2.5, -3.2, -3.0, -1.0, 0.1, 0.3,
    -0.4, 0.2, 2.0, 2.2, 1.3, 0.6, 0.6, 0.9, 1.4, 3.3,
    0.8, -0.7, -2.4, -3.2, -4.3, -4.3, -3.4, -2.9, -2.5, -2.0,
    -0.5, 0.6, 1.0, 2.1, 1.2, 0.9, 0.3, 0.4, 0.3, -0.3,
    -1.2, -1.9, -3.0, -3.8, -3.9, -3.5, -1.0, -1.5, -1.6, -0.6,
    0.1, 0.5, 0.6, 0.4, 0.6, 1.1, 2.0, 2.5, 2.4, 2.2,
    0.4, -1.4, -2.1, -2.7, -3.1, -3.6, -3.0, -2.7, -2.0, -1.5,
    -1.4, -0.8, -0.1, 0.3, 1.2, 1.9, 2.2, 3.0, 3.2, 0.0,
    -0.8, -0.3, 0.0, -1.6, -3.1, -3.7, -3.0, -2.0, -1.6, -0.8,
    0.0, 0.45, 0.8, 1.1, 1.8, 0.7, 0.6, 0.4, 1.4, 2.8,
    2.0,
]
feat_fa_prn = [
    -3.7, -2.0, -1.6, -2.9, -2.2, -0.5, -0.2, -1.0, -1.3, -0.2,
    0.0, -2.5, -3.0, -2.6, -3.0, -2.4, -2.0, -1.6, -1.1, -2.3,
    -3.9, -4.9, -3.5, -2.8, -2.5, -2.8, -1.0, 2.0, 0.5, 0.2,
    0.3, -1.5, -2.7, -2.6, -2.3, -1.6, -1.6, -1.8, -2.0, -3.0,
    -4.8, -4.9, -2.5, -2.5, 0.0, 1.3, 0.8, 0.2, 0.6, -1.0,
    -2.0, -1.5, -2.0, -2.7, -3.1, -3.5, -3.9, -4.4, -4.8, -4.9,
    -4.2, -2.3, -1.5, -1.2, -0.6, 1.8, 0.3, -2.3, -1.6, -1.8,
    -2.3, -1.5, -1.9, -1.0, -0.7, -0.5, -0.8, -1.3, -2.1, -2.9,
    -4.0, -4.9, -4.0, -3.2, -2.5, -1.2, 1.2, -0.5, -0.5, -1.0,
    -1.1, -1.2, -2.7, -2.3, -2.7, -1.8, -2.0, -3.2, -3.1, -4.2,
    -4.9, -4.9, -1.5, -1.9, -2.3, -2.0, -0.8, 0.0, -0.5, -0.6,
    -2.5, -2.3, -2.1, -2.4, -2.5, -2.45, -2.6, -2.8, -3.6, -4.7,
    -4.9,
]
feat_wr_x = [
    0.0, -0.05, -0.1, -0.05, 0.1, 0.7, 1.5, 1.5, 1.5, 1.45,
    0.95, 0.2, -0.5, -0.9, -1.05, -1.1, -1.0, -0.95, -0.95, -1.0,
    -1.05, -0.8, 0.4, 0.35, 0.3, 0.35, 0.6, 1.5, 1.7, 1.6,
    1.5, 0.9, -0.25, -0.55, -0.8, -0.7, -0.75, -0.7, -0.72, -0.7,
    0.3, 0.3, 0.2, 0.1, 0.2, 0.6, 1.2, 1.6, 1.65, 1.55,
    1.2, 0.4, -0.2, -0.7, -1.05, -0.65, -0.5, -0.6, -0.6, 0.05,
    0.2, 0.15, 0.1, 0.15, 0.2, 0.3, 1.3, 1.72, 1.75, 1.5,
    0.3, -0.3, -0.45, -0.6, -0.7, -0.72, -0.75, -0.78, -0.8, -0.75,
    -0.05, 0.0, 0.05, -0.05, -0.05, 0.1, 0.7, 1.7, 1.85, 1.75,
    1.65, 1.2, 0.0, -0.45, -0.8, -0.95, -0.92, -0.75, -0.25, 0.0,
    0.1, 0.1, 0.12, 0.15, 0.18, 0.6, 1.55, 1.7, 1.65, 1.05,
    0.2, -0.5, -0.8, -0.85, -0.9, -0.88, -0.85, -0.82, -0.65, 0.35,
    0.2,
]
feat_wr_y = [
    1.0, 0.85, 1.0, 1.0, 0.8, 0.4, 0.1, 0.1, 0.0, -0.3,
    -0.6, -0.85, -1.25, -1.45, -1.5, -1.55, -1.55, -1.55, -1.52, -1.5,
    -1.5, -1.25, 0.75, 0.95, 1.0, 0.85, 0.3, 0.05, 0.25, 0.1,
    0.2, -0.1, -0.6, -1.15, -1.45, -1.52, -1.55, -1.55, -1.53, -1.3,
    0.15, 0.85, 1.05, 1.05, 0.85, 0.35, -0.1, -0.2, -0.3, -0.45,
    -0.7, -1.1, -1.5, -1.5, -1.5, -1.5, -1.5, -1.48, -1.3, 0.1,
    0.85, 0.9, 0.95, 0.9, 0.8, 0.4, -0.3, -0.4, -0.45, -0.85,
    -1.0, -1.45, -1.52, -1.55, -1.55, -1.55, -1.52, -1.5, -1.5, -1.5,
    -1.2, 0.5, 1.0, 1.0, 0.95, 0.8, 0.0, -0.25, 0.0, -0.05,
    -0.15, -0.35, -1.1, -1.45, -1.48, -1.5, -1.5, -1.47, -1.45, -1.3,
    0.2, 1.05, 1.05, 1.0, 0.9, 0.6, -0.02, -0.05, -0.08, -0.12,
    -0.65, -1.35, -1.47, -1.5, -1.52, -1.55, -1.53, -1.5, -1.48, -1.3,
    0.2,
]
feat_wr_z = [
    0.4, -0.1, 0.1, 0.0, -0.2, -0.3, -0.7, -1.0, -1.0, -0.85,
    -0.3, 0.55, 0.9, 1.0, 1.15, 1.2, 1.2, 1.2, 1.25, 1.35,
    1.35, 1.0, 0.2, 0.0, -0.05, -0.15, -0.45, -0.55, -0.85, -0.95,
    -0.7, 0.1, 1.1, 1.3, 1.45, 1.5, 1.45, 1.45, 1.42, 1.35,
    1.25, 1.3, 0.6, 0.25, -0.1, -0.45, -0.55, -0.6, -0.6, -0.45,
    0.3, 0.95, 1.1, 1.3, 1.4, 1.35, 1.3, 1.22, 1.18, 1.2,
    0.6, 0.0, -0.1, -0.2, -0.28, -0.4, -0.5, -0.55, -0.45, 0.0,
    0.8, 1.0, 1.1, 1.25, 1.2, 1.2, 1.2, 1.25, 1.3, 1.35,
    0.9, 0.3, 0.55, 0.0, -0.25, -0.4, -0.5, -0.6, -0.65, -0.6,
    -0.2, 0.5, 0.9, 1.0, 1.15, 1.25, 1.22, 1.15, 1.1, 1.1,
    1.05, 0.4, 0.0, -0.12, -0.25, -0.15, -0.1, -0.6, -0.6, -0.45,
    0.3, 0.6, 0.85, 1.05, 1.25, 1.2, 1.2, 1.25, 1.1, 0.75,
    0.9,
]

# colours
C_ORANGE, C_BLUE, C_RED, C_GREEN = '#ff7f0e', '#1f77b4', '#d62728', '#2ca02c'
C_PINK, C_GRAY, C_OLIVE, C_TEAL = '#e377c2', '#7f7f7f', '#bcbd22', '#4c9691'
C_CYAN, C_BLACK, C_PURPLE = '#17becf', 'k', '#5b3b92'

fig = plt.figure(figsize=(19.65, 10.76), dpi=100)
ax1 = fig.add_axes([0.0662, 0.7245, 0.8310, 0.2655])
ax2 = fig.add_axes([0.0662, 0.4035, 0.8310, 0.2655])
ax3 = fig.add_axes([0.0662, 0.0866, 0.8310, 0.2645])

TICK_FS = 16
LABEL_FS = 23
LEG = dict(loc='upper left', bbox_to_anchor=(1.006, 1.0), borderaxespad=0.0,
           fontsize=15.2, handlelength=2.2, handletextpad=0.8, labelspacing=0.58,
           borderpad=0.4)

# panel 1
ext_t, ext_v = np.array(extracted_pts).T
acmp_t, acmp_v = np.array(acmp_pts).T
diff_t, diff_v = np.array(difference_pts).T
ax1.plot(ext_t, ext_v, color='c', lw=2.8, label='extracted')
ax1.plot(acmp_t, acmp_v, color='k', lw=1.6, label='ACMP')
ax1.plot(diff_t, diff_v, color='r', lw=1.6, label='difference')
ax1.set_ylim(0, 2)
ax1.set_yticks([0, 1, 2])
ax1.set_yticklabels(['0$\\pi$', '1$\\pi$', '2$\\pi$'])
ax1.yaxis.set_minor_locator(MultipleLocator(0.25))
ax1.set_ylabel('Phase (rad)', fontsize=LABEL_FS)
leg1 = ax1.legend(**LEG)

# panel 2
ax2.plot(frames10, err_ua_pnt, color=C_ORANGE, lw=1.4, label='UA Pnt.')
ax2.plot(frames10, err_fa_pnt, color=C_RED, lw=1.4, label='FA Pnt.')
ax2.plot(frames10, err_ts_ffx, color=C_PINK, lw=1.4, label='TS Ffx.')
ax2.plot(frames10, err_ts_turn, color=C_GRAY, lw=1.4, label='TS Turn')
ax2.plot(frames10, err_ts_lfx, color=C_OLIVE, lw=1.4, label='TS Lfx.')
ax2.plot(frames5, err_fa_prn, color=C_TEAL, lw=1.4, label='FA Prn.')
ax2.plot(frames10, err_wr_x, color=C_CYAN, lw=1.4, label='WR X')
ax2.plot(frames5, err_wr_y, color=C_BLACK, lw=1.4, label='WR Y')
ax2.plot(frames10, err_wr_z, color=C_PURPLE, lw=1.4, label='WR Z')
ax2.set_ylim(0, 28.9)
ax2.set_yticks([0, 5, 10, 15, 20, 25])
ax2.set_ylabel('Scaled\nreconstruction error', fontsize=LABEL_FS)
leg2 = ax2.legend(**LEG)

# panel 3
feats = [
    (feat_ua_azeq1, C_ORANGE, 'UA AZEQ1'), (feat_ua_azeq2, C_BLUE, 'UA AZEQ2'),
    (feat_fa_azeq1, C_RED, 'FA AZEQ1'), (feat_fa_azeq2, C_GREEN, 'FA AZEQ2'),
    (feat_ts_ffx, C_PINK, 'TS Ffx.'), (feat_ts_turn, C_GRAY, 'TS Turn'),
    (feat_ts_lfx, C_OLIVE, 'TS Lfx.'), (feat_fa_prn, C_TEAL, 'FA Prn.'),
    (feat_wr_x, C_CYAN, 'WR X'), (feat_wr_y, C_BLACK, 'WR Y'), (feat_wr_z, C_PURPLE, 'WR Z'),
]
for vals, col, name in feats:
    ax3.plot(frames10, vals, color=col, lw=1.4, label=name)
ax3.set_ylim(-4.5, 4.5)
ax3.set_yticks([-4, -2, 0, 2, 4])
ax3.set_ylabel('Normalized features', fontsize=LABEL_FS)
ax3.set_xlabel('Time (frame)', fontsize=23.5)
leg3 = ax3.legend(**LEG)

for leg in (leg1, leg2, leg3):
    leg.get_frame().set_linewidth(2.0)

for ax in (ax1, ax2, ax3):
    ax.set_xlim(0, 1200)
    ax.set_xticks(range(0, 1201, 200))
    ax.tick_params(which='major', direction='out', length=9.5, width=1.3, labelsize=TICK_FS)
    ax.tick_params(which='minor', direction='out', length=5, width=1.0)
    ax.tick_params(axis='x', which='major', pad=6)
    ax.tick_params(axis='y', which='major', pad=8)
    for sp in ax.spines.values():
        sp.set_linewidth(1.3)
    ax.yaxis.set_label_coords(-0.0405, 0.5)
ax1.tick_params(labelbottom=False)
ax2.tick_params(labelbottom=False)
ax3.xaxis.set_label_coords(0.5, -0.22)

fig.savefig('out.png', dpi=100)
